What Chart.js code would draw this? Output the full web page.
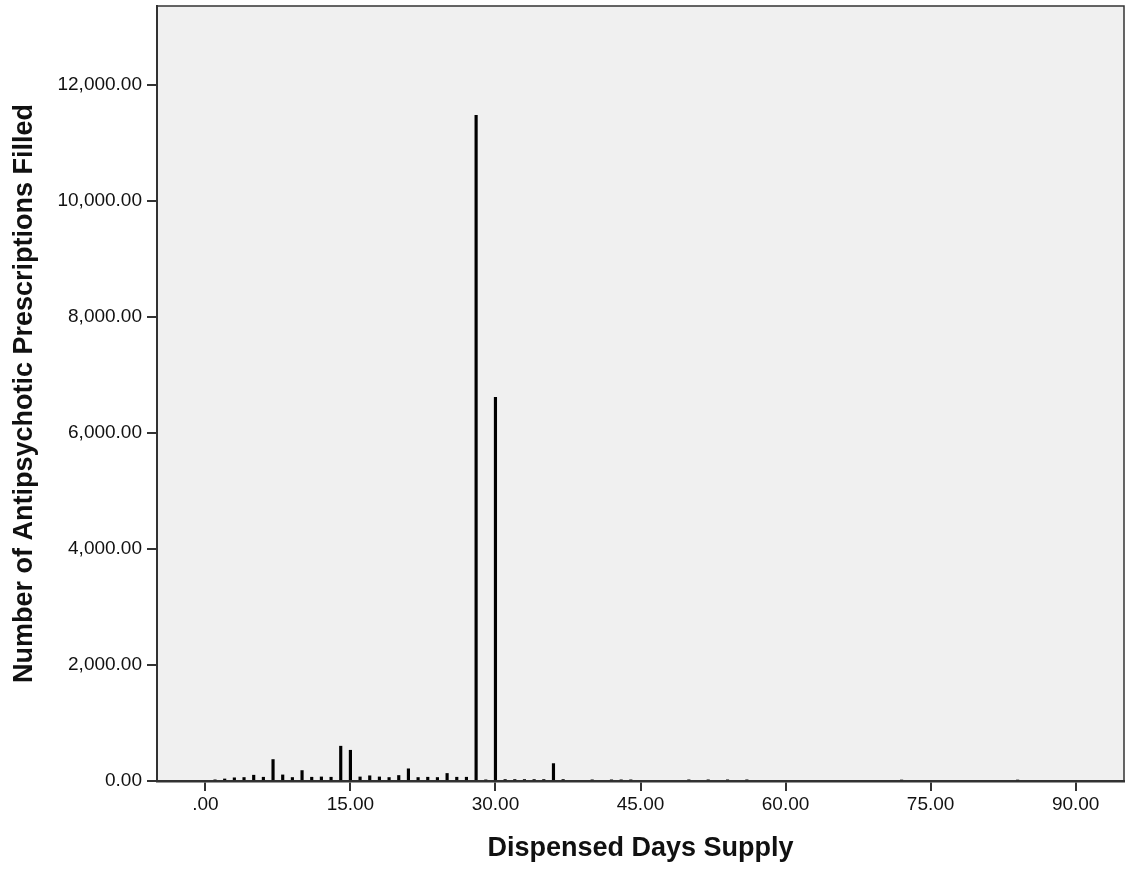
<!DOCTYPE html>
<html>
<head>
<meta charset="utf-8">
<script src="https://cdn.jsdelivr.net/npm/chart.js@4"></script>
<style>
  html, body { margin: 0; padding: 0; background: #ffffff; }
  #wrap { width: 1125px; height: 869px; }
</style>
</head>
<body>
<div id="wrap"><canvas id="c" width="1125" height="869"></canvas></div>
<script>
const days = [1,2,3,4,5,6,7,8,9,10,11,12,13,14,15,16,17,18,19,20,21,22,23,24,25,26,27,28,29,30,31,32,33,34,35,36,37,40,42,43,44,50,52,54,56,72,84];
const counts = [20,35,55,60,100,65,370,105,60,180,65,70,65,600,530,70,90,70,60,95,210,60,65,60,130,65,65,11475,20,6615,25,25,25,25,25,300,25,20,20,20,20,20,20,20,20,15,15];
const xTicks = [0,15,30,45,60,75,90];
const yTicks = [0,2000,4000,6000,8000,10000,12000];
const xTitle = 'Dispensed Days Supply';
const yTitle = 'Number of Antipsychotic Prescriptions Filled';

const points = days.map((d, i) => ({ x: d, y: counts[i] }));

const framePlugin = {
  id: 'frame',
  beforeDraw(chart) {
    const { ctx, chartArea: a } = chart;
    ctx.save();
    ctx.fillStyle = '#f0f0f0';
    ctx.fillRect(a.left, a.top, a.right - a.left, a.bottom - a.top);
    ctx.restore();
  },
  afterDraw(chart) {
    const { ctx, chartArea: a } = chart;
    ctx.save();
    ctx.strokeStyle = '#333333';
    ctx.lineWidth = 1.5;
    ctx.strokeRect(a.left, a.top, a.right - a.left, a.bottom - a.top);
    ctx.restore();
  }
};

const tickFont = { family: '"Liberation Sans", Arial, sans-serif', size: 19 };
const titleFont = { family: '"Liberation Sans", Arial, sans-serif', size: 27, weight: 'bold' };

new Chart(document.getElementById('c'), {
  type: 'bar',
  data: {
    datasets: [{
      data: points,
      backgroundColor: '#000000',
      borderWidth: 0,
      barThickness: 2.5
    }]
  },
  plugins: [framePlugin],
  options: {
    responsive: false,
    animation: false,
    layout: { padding: { top: 6, right: 1, left: 0, bottom: 0 } },
    plugins: { legend: { display: false }, tooltip: { enabled: false } },
    scales: {
      x: {
        type: 'linear',
        min: -5,
        max: 95,
        offset: false,
        afterBuildTicks: (s) => { s.ticks = xTicks.map(v => ({ value: v })); },
        afterFit: (s) => { s.height = 88; s.paddingLeft = 0; s.paddingRight = 0; },
        ticks: {
          color: '#111111',
          font: tickFont,
          padding: 2,
          maxRotation: 0,
          callback: (v) => (v === 0 ? '.00' : v.toFixed(2))
        },
        grid: { offset: false, drawOnChartArea: false, drawTicks: true, tickLength: 10, tickColor: '#333333', lineWidth: 2 },
        border: { display: true, color: '#333333', width: 2.5 },
        title: { display: true, text: xTitle, color: '#111111', font: titleFont, padding: { top: 0, bottom: 4 } }
      },
      y: {
        type: 'linear',
        min: 0,
        max: 13360,
        afterBuildTicks: (s) => { s.ticks = yTicks.map(v => ({ value: v })); },
        afterFit: (s) => { s.width = 157; s.paddingTop = 0; s.paddingBottom = 0; },
        ticks: {
          color: '#111111',
          font: tickFont,
          padding: 5,
          callback: (v) => v.toLocaleString('en-US', { minimumFractionDigits: 2, maximumFractionDigits: 2 })
        },
        grid: { drawOnChartArea: false, drawTicks: true, tickLength: 10, tickColor: '#333333', lineWidth: 2 },
        border: { display: true, color: '#333333', width: 2 },
        title: { display: true, text: yTitle, color: '#111111', font: titleFont, padding: { top: 8, bottom: 0 } }
      }
    }
  }
});
</script>
</body>
</html>
